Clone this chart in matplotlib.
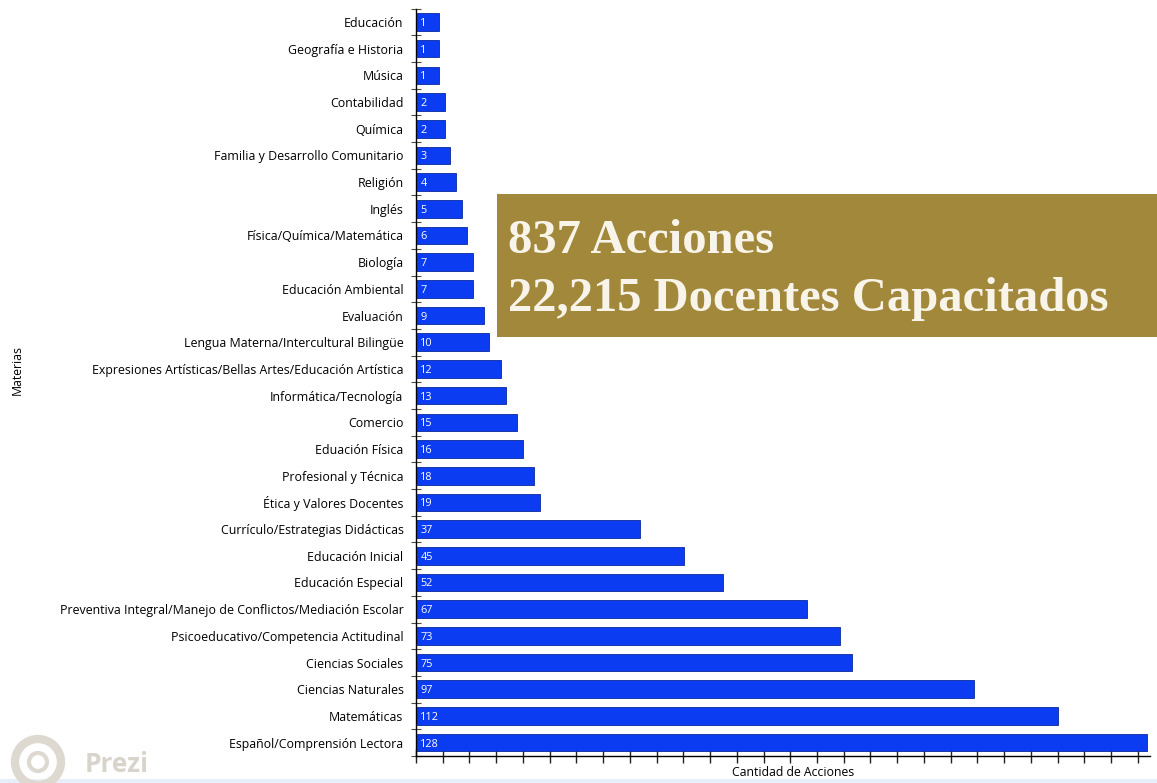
import matplotlib
matplotlib.use("Agg")
import matplotlib.pyplot as plt
import numpy as np
from matplotlib.patches import Rectangle, Circle

# Materias y cantidad de acciones (de arriba hacia abajo)
materias = [
    "Educación", "Geografía e Historia", "Música", "Contabilidad", "Química",
    "Familia y Desarrollo Comunitario", "Religión", "Inglés",
    "Física/Química/Matemática", "Biología", "Educación Ambiental", "Evaluación",
    "Lengua Materna/Intercultural Bilingüe",
    "Expresiones Artísticas/Bellas Artes/Educación Artística",
    "Informática/Tecnología", "Comercio", "Eduación Física",
    "Profesional y Técnica", "Ética y Valores Docentes",
    "Currículo/Estrategias Didácticas", "Educación Inicial", "Educación Especial",
    "Preventiva Integral/Manejo de Conflictos/Mediación Escolar",
    "Psicoeducativo/Competencia Actitudinal", "Ciencias Sociales",
    "Ciencias Naturales", "Matemáticas", "Español/Comprensión Lectora",
]
acciones = [1, 1, 1, 2, 2, 3, 4, 5, 6, 7, 7, 9, 10, 12, 13, 15, 16, 18, 19,
            37, 45, 52, 67, 73, 75, 97, 112, 128]

resumen = ["837 Acciones", "22,215 Docentes Capacitados"]

plt.rcParams['font.family'] = ['Open Sans', 'DejaVu Sans']

fig = plt.figure(figsize=(11.57, 7.83), dpi=100)
ax = fig.add_axes([0.3595, 0.0345, 0.6345, 0.9545])

xmin, xmax = -3.2, 128.6
y = np.arange(len(materias))
ax.barh(y, np.array(acciones) - xmin, left=xmin, height=0.66,
        color='#0b3cf2', edgecolor='#0a2a9a', linewidth=0.6, zorder=2)

for yi, v in zip(y, acciones):
    ax.text(xmin + 0.8, yi, str(v), color='white', fontsize=7.8,
            va='center_baseline', ha='left', zorder=3)

ax.set_xlim(xmin, xmax)
ax.set_ylim(len(materias) - 0.5, -0.5)

ax.set_yticks(y)
ax.set_yticklabels(materias, fontsize=8.9)
ax.set_yticks(np.arange(len(materias) + 1) - 0.5, minor=True)
ax.tick_params(axis='y', which='major', length=0, pad=9)
ax.tick_params(axis='y', which='minor', direction='inout', length=7,
               width=0.8, color='#5a4a3a')

ax.set_xticks(np.linspace(xmin, xmin + 27 * 4.8, 28))
ax.set_xticklabels([])
ax.tick_params(axis='x', direction='inout', length=10, width=1.0, color='#222222')

for s in ['top', 'right']:
    ax.spines[s].set_visible(False)
ax.spines['left'].set_linewidth(1.0)
ax.spines['bottom'].set_linewidth(1.0)

fig.text(793 / 1157, 1 - 773 / 783, "Cantidad de Acciones", fontsize=8.8,
         ha='center', va='center')
fig.text(0.015, 1 - 370 / 783, "Materias", rotation=90, fontsize=8.8,
         ha='center', va='center')

# recuadro dorado con el resumen
fig.add_artist(Rectangle((497 / 1157, 1 - 337 / 783), 700 / 1157, 143 / 783,
                         transform=fig.transFigure, facecolor='#a1883a',
                         edgecolor='none', zorder=5))
fig.text(508 / 1157, 1 - 241 / 783, resumen[0], fontsize=35, fontweight='bold',
         family=['Liberation Serif', 'DejaVu Serif'], color='#f8f4ea',
         va='center', ha='left', zorder=6)
fig.text(508 / 1157, 1 - 299 / 783, resumen[1], fontsize=35, fontweight='bold',
         family=['Liberation Serif', 'DejaVu Serif'], color='#f8f4ea',
         va='center', ha='left', zorder=6)

# marca de agua Prezi
fig.add_artist(Circle((0.38, 0.21), 0.23, transform=fig.dpi_scale_trans,
                      facecolor='none', edgecolor='#ddd8d0', linewidth=6, zorder=4))
fig.add_artist(Circle((0.38, 0.21), 0.09, transform=fig.dpi_scale_trans,
                      facecolor='none', edgecolor='#ddd8d0', linewidth=3, zorder=4))
fig.text(85 / 1157, 1 - 764 / 783, "Prezi", fontsize=19, fontweight='bold',
         color='#d8d4cc', va='center', ha='left', zorder=4)

# franja celeste inferior
fig.add_artist(Rectangle((0, 0), 1, 4 / 783, transform=fig.transFigure,
                         facecolor='#e6effa', edgecolor='none', zorder=1))

fig.savefig("out.png", dpi=100)
